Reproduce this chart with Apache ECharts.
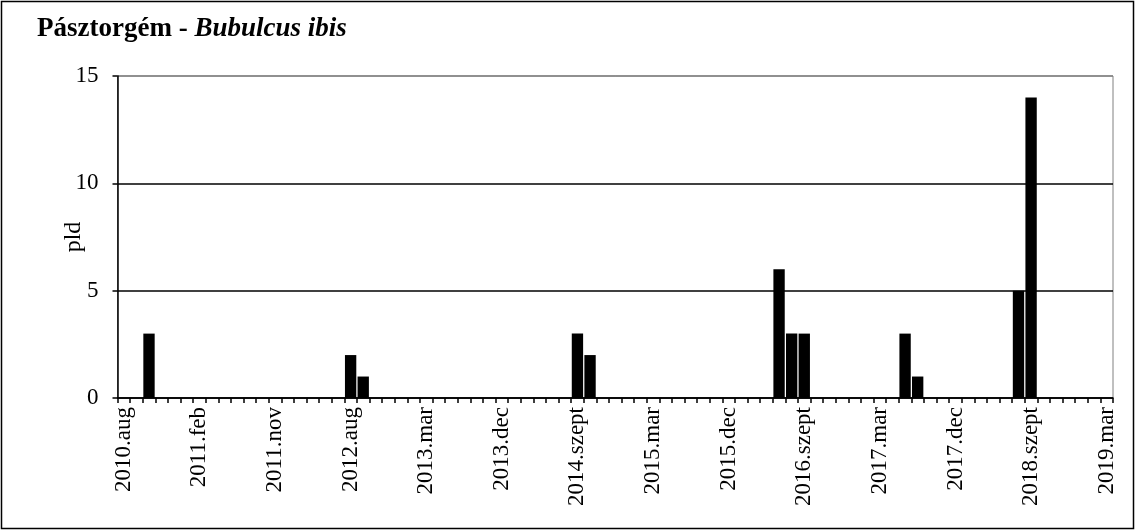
<!DOCTYPE html>
<html>
<head>
<meta charset="utf-8">
<script src="https://cdn.jsdelivr.net/npm/echarts@6/dist/echarts.min.js"></script>
<style>
  html, body { margin: 0; padding: 0; background: #fff; }
  #chart { width: 1136px; height: 531px; }
</style>
</head>
<body>
<div id="chart"></div>
<script>
// Pásztorgém - Bubulcus ibis, egyedszám mintavételenként

const categories = [
  '2010.aug', '2010.szept', '2010.okt', '2010.nov', '2010.dec', '2011.jan',
  '2011.feb', '2011.mar', '2011.ápr', '2011.máj', '2011.jún', '2011.aug',
  '2011.nov', '2011.dec', '2012.jan', '2012.mar', '2012.máj', '2012.jún',
  '2012.aug', '2012.szept', '2012.okt', '2012.nov', '2012.dec', '2013.jan',
  '2013.mar', '2013.ápr', '2013.máj', '2013.jún', '2013.aug', '2013.okt',
  '2013.dec', '2014.jan', '2014.mar', '2014.ápr', '2014.máj', '2014.júl',
  '2014.szept', '2014.okt', '2014.nov', '2014.dec', '2015.jan', '2015.feb',
  '2015.mar', '2015.ápr', '2015.máj', '2015.jún', '2015.aug', '2015.okt',
  '2015.dec', '2016.jan', '2016.mar', '2016.máj', '2016.jún', '2016.aug',
  '2016.szept', '2016.okt', '2016.nov', '2016.dec', '2017.jan', '2017.feb',
  '2017.mar', '2017.ápr', '2017.máj', '2017.jún', '2017.aug', '2017.okt',
  '2017.dec', '2018.jan', '2018.feb', '2018.mar', '2018.máj', '2018.aug',
  '2018.szept', '2018.okt', '2018.nov', '2018.dec', '2019.jan', '2019.feb',
  '2019.mar'
];

const pld = [
  0, 0, 3, 0, 0, 0,
  0, 0, 0, 0, 0, 0,
  0, 0, 0, 0, 0, 0,
  2, 1, 0, 0, 0, 0,
  0, 0, 0, 0, 0, 0,
  0, 0, 0, 0, 0, 0,
  3, 2, 0, 0, 0, 0,
  0, 0, 0, 0, 0, 0,
  0, 0, 0, 0, 6, 3,
  3, 0, 0, 0, 0, 0,
  0, 0, 3, 1, 0, 0,
  0, 0, 0, 0, 0, 5,
  14, 0, 0, 0, 0, 0,
  0
];

const yTicks = [0, 5, 10, 15];

const serif = '"Liberation Serif", "DejaVu Serif", serif';

const myChart = echarts.init(document.getElementById('chart'));
myChart.setOption({
  animation: false,
  backgroundColor: '#fff',
  title: {
    text: '{b|Pásztorgém - }{i|Bubulcus ibis}',
    left: 32,
    top: 11,
    textStyle: {
      rich: {
        b: { fontFamily: serif, fontSize: 27, fontWeight: 'bold', color: '#000' },
        i: { fontFamily: serif, fontSize: 27, fontWeight: 'bold', fontStyle: 'italic', color: '#000' },
      },
    },
  },
  graphic: [
    {
      type: 'rect',
      shape: { x: 1.5, y: 1.5, width: 1132, height: 527 },
      style: { fill: 'none', stroke: '#000', lineWidth: 1.5 },
      silent: true,
    },
  ],
  grid: {
    left: 117.5,
    right: 23,
    top: 76,
    bottom: 133,
    show: true,
    borderColor: '#808080',
    borderWidth: 1,
  },
  xAxis: {
    type: 'category',
    data: categories,
    boundaryGap: true,
    axisLine: { lineStyle: { color: '#000', width: 1.5 } },
    axisTick: {
      show: true,
      interval: 0,
      alignWithLabel: false,
      length: 5,
      lineStyle: { color: '#000', width: 1.5 },
    },
    axisLabel: {
      interval: 5,
      rotate: 90,
      margin: 9,
      color: '#000',
      fontFamily: serif,
      fontSize: 23,
    },
    splitLine: { show: false },
  },
  yAxis: {
    type: 'value',
    min: yTicks[0],
    max: yTicks[yTicks.length - 1],
    interval: 5,
    name: 'pld',
    nameLocation: 'middle',
    nameRotate: 90,
    nameGap: 32,
    nameMoveOverlap: false,
    nameTextStyle: { color: '#000', fontFamily: serif, fontSize: 24 },
    axisLine: { show: true, lineStyle: { color: '#000', width: 1.5 } },
    axisTick: { show: true, length: 5, lineStyle: { color: '#000', width: 1.5 } },
    axisLabel: {
      margin: 19,
      color: '#000',
      fontFamily: serif,
      fontSize: 23,
    },
    splitLine: {
      show: true,
      lineStyle: { color: ['#000', '#000', '#000', '#808080'], width: 1.5 },
    },
  },
  series: [
    {
      name: 'pld',
      type: 'bar',
      data: pld,
      barCategoryGap: '10%',
      itemStyle: { color: '#000' },
    },
  ],
});
</script>
</body>
</html>
